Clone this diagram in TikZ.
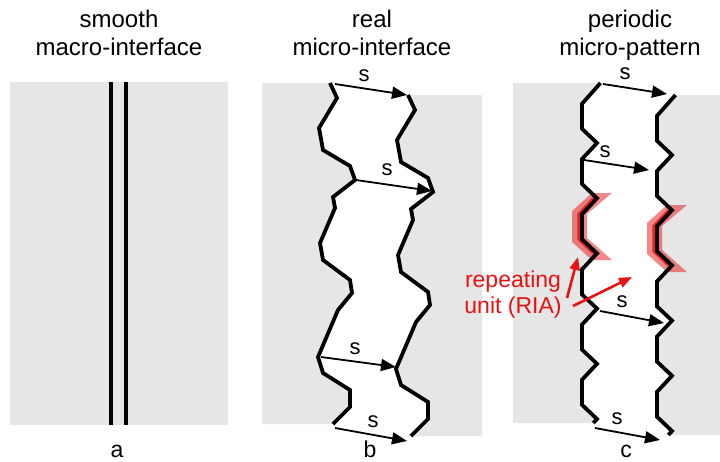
\documentclass[tikz,border=0pt]{standalone}
\usepackage{fontspec}
\setmainfont{Liberation Sans}
\usetikzlibrary{arrows.meta}
\definecolor{bg}{RGB}{230,230,230}
\definecolor{rd}{RGB}{232,18,18}
\begin{document}
\begin{tikzpicture}[x=1pt,y=-1pt,
  iface/.style={line width=3.8pt, line join=miter, draw=black},
  flat/.style={line width=3.5pt, draw=black},
  sarrow/.style={line width=1.8pt, draw=black, -{Triangle[length=15pt,width=12pt]}},
  rarrow/.style={line width=2.6pt, draw=rd, -{Triangle[length=13pt,width=10pt]}},
  title/.style={font=\fontsize{24}{28}\selectfont, anchor=base, inner sep=0pt},
  lbl/.style={font=\fontsize{23}{27}\selectfont, anchor=base, inner sep=0pt},
  slbl/.style={font=\fontsize{22}{26}\selectfont, inner sep=0pt},
  rtxt/.style={font=\fontsize{23}{26}\selectfont, text=rd, anchor=base, inner sep=0pt},
  pinkband/.style={fill=rd, fill opacity=0.5, draw=none},
  redline/.style={draw=rd, line width=2.5pt, draw opacity=0.85},
]
\useasboundingbox (0,0) rectangle (720,461);
\fill[white] (0,0) rectangle (720,461);

% ---------- panel a ----------
\fill[bg] (10,82) rectangle (228,425);
\draw[flat] (111,82) -- (111,425);
\draw[flat] (126,82) -- (126,425);

% ---------- panel b ----------
\def\curveB{(330,83) -- (337,98) -- (319,128) -- (323,150) -- (350,166) -- (355,180) -- (333,197) -- (335,208) -- (320,243) -- (323,260) -- (350,280) -- (352,293) -- (338,310) -- (318,357) -- (323,373) -- (350,390) -- (350,407) -- (333,424)}
\fill[bg] \curveB -- (262,424) -- (262,83) -- cycle;
\begin{scope}[shift={(78,12)}]
  \fill[bg] \curveB -- (404,424) -- (404,83) -- cycle;
\end{scope}
\draw[iface] \curveB;
\draw[iface, shift={(78,12)}] \curveB;

% ---------- panel c ----------
\def\curveC{(600.5,83) -- (582,103.8) -- (582,128.8) -- (597,143) -- (582,159) -- (582,184) -- (597,198.2) -- (582,214.2) -- (582,239.2) -- (597,253.4) -- (582,269.4) -- (582,294.4) -- (597,308.6) -- (582,324.6) -- (582,349.6) -- (597,363.8) -- (582,379.8) -- (582,404.8) -- (597,419) -- (593.3,423)}
\def\unitC{(597,198.2) -- (582,214.2) -- (582,239.2) -- (597,253.4)}
\def\bandC{(592,193) -- (612,193) -- (587,214) -- (587,238) -- (612,260) -- (592,260) -- (572,242) -- (572,211) -- cycle}
\fill[bg] \curveC -- (513,423) -- (513,83) -- cycle;
\begin{scope}[shift={(75,12)}]
  \fill[bg] \curveC -- (645,423) -- (645,83) -- cycle;
\end{scope}
% repeating units
\fill[pinkband] \bandC;
\fill[pinkband, shift={(75,12)}] \bandC;
\draw[redline, shift={(-3.5,0)}] \unitC;
\draw[redline, shift={(71.5,12)}] \unitC;
\draw[iface] \curveC;
\draw[iface, shift={(75,12)}] \curveC;

% ---------- s arrows ----------
\coordinate (b1s) at (335,84);  \coordinate (b1e) at (407,95);
\coordinate (b2s) at (356,180); \coordinate (b2e) at (432,191);
\coordinate (b3s) at (321,357); \coordinate (b3e) at (396,367);
\coordinate (b4s) at (335,428); \coordinate (b4e) at (407,441);
\coordinate (c1s) at (603,84);  \coordinate (c1e) at (667,94);
\coordinate (c2s) at (584,160); \coordinate (c2e) at (649,170);
\coordinate (c3s) at (600,311); \coordinate (c3e) at (664,323);
\coordinate (c4s) at (595,428); \coordinate (c4e) at (660,440);
\foreach \a in {b1,b2,b3,b4,c1,c2,c3,c4} \draw[sarrow] (\a s) -- (\a e);

\node[slbl] (sb1) at (364,76) {s};
\node[slbl] (sb2) at (387,170) {s};
\node[slbl] (sb3) at (355,349) {s};
\node[slbl] (sb4) at (373,422) {s};
\node[slbl] (sc1) at (625,74) {s};
\node[slbl] (sc2) at (605,152) {s};
\node[slbl] (sc3) at (622,302) {s};
\node[slbl] (sc4) at (617,419) {s};

% ---------- red annotation ----------
\node[rtxt] (rep1) at (513,287) {repeating};
\node[rtxt] (rep2) at (513,313) {unit (RIA)};
\coordinate (ra1s) at (567,298); \coordinate (ra1e) at (578,257);
\coordinate (ra2s) at (573,306); \coordinate (ra2e) at (632,277);
\draw[rarrow] (ra1s) -- (ra1e);
\draw[rarrow] (ra2s) -- (ra2e);

% ---------- titles ----------
\node[title] (t1a) at (119,27.5) {smooth};
\node[title] (t1b) at (119,55) {macro-interface};
\node[title] (t2a) at (372,27.5) {real};
\node[title] (t2b) at (372,55) {micro-interface};
\node[title] (t3a) at (630,27.5) {periodic};
\node[title] (t3b) at (630,55) {micro-pattern};

% ---------- panel letters ----------
\node[lbl] (la) at (117,457) {a};
\node[lbl] (lb) at (370,457) {b};
\node[lbl] (lc) at (626,457) {c};
\end{tikzpicture}
\end{document}
